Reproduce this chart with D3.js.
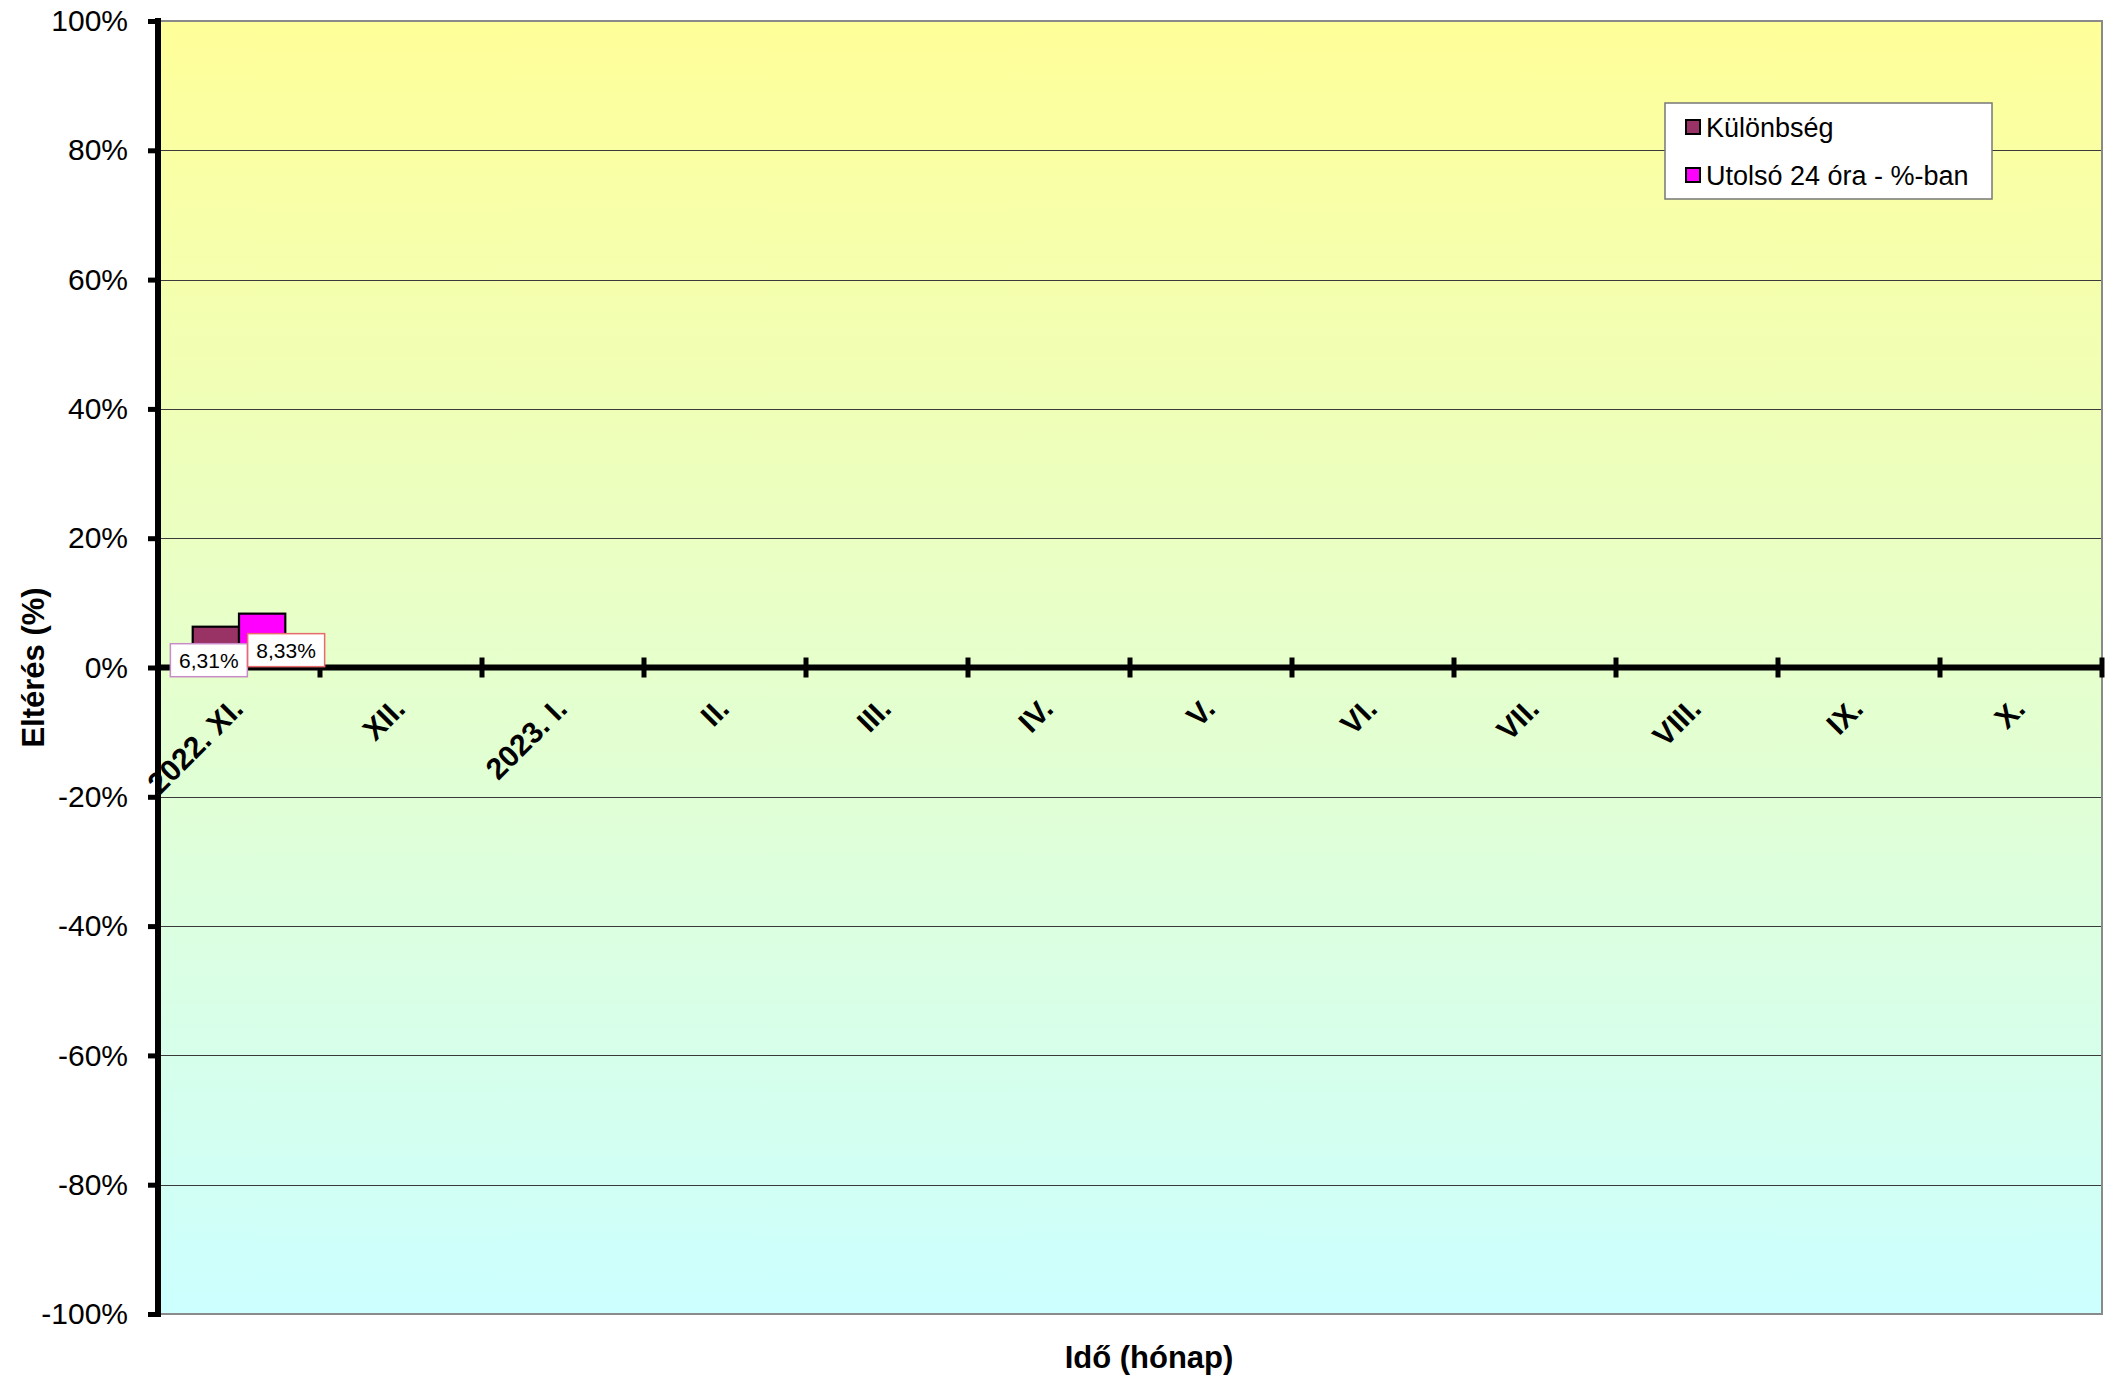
<!DOCTYPE html>
<html>
<head>
<meta charset="utf-8">
<script src="https://cdn.jsdelivr.net/npm/d3@7"></script>
<style>
  html, body { margin: 0; padding: 0; background: #fff; }
  svg { display: block; font-family: "Liberation Sans", Arial, sans-serif; }
</style>
</head>
<body>
<svg id="chart" width="2112" height="1378"></svg>
<script>
// ---- data ----
const categories = ["2022. XI.", "XII.", "2023. I.", "II.", "III.", "IV.", "V.", "VI.", "VII.", "VIII.", "IX.", "X."];
const seriesNames = ["Különbség", "Utolsó 24 óra - %-ban"];
const kulonbsegValues = [6.31, null, null, null, null, null, null, null, null, null, null, null];
const utolsoValues = [8.33, null, null, null, null, null, null, null, null, null, null, null];
const yTicks = [100, 80, 60, 40, 20, 0, -20, -40, -60, -80, -100];
const yTitle = "Eltérés (%)";
const xTitle = "Idő (hónap)";

// ---- styles ----
const seriesColors = ["#993366", "#FF00FF"];
const labelBorders = ["#C88BC8", "#E86A6A"];
const labelOffsets = [{dx: -7, dy: 33.5}, {dx: 24, dy: 36.5}];

const svg = d3.select("#chart");
const pLeft = 158, pRight = 2102, pTop = 21, pBottom = 1314;

const x = d3.scaleBand().domain(categories).range([pLeft, pRight]).padding(0);
const xs = d3.scaleBand().domain(seriesNames).range([0, x.bandwidth()]).paddingInner(0).paddingOuter(0.75);
const y = d3.scaleLinear().domain([-100, 100]).range([pBottom, pTop]);

// background gradient
const defs = svg.append("defs");
const grad = defs.append("linearGradient").attr("id", "bg").attr("x1", 0).attr("y1", 0).attr("x2", 0).attr("y2", 1);
grad.append("stop").attr("offset", "0%").attr("stop-color", "#FFFF99");
grad.append("stop").attr("offset", "100%").attr("stop-color", "#CCFFFF");

svg.append("rect").attr("x", pLeft).attr("y", pTop).attr("width", pRight - pLeft).attr("height", pBottom - pTop)
  .attr("fill", "url(#bg)");

// gridlines
svg.append("g").selectAll("line").data(yTicks.filter(d => d !== 0 && d !== 100 && d !== -100)).join("line")
  .attr("x1", pLeft).attr("x2", pRight)
  .attr("y1", d => Math.round(y(d)) + 0.5).attr("y2", d => Math.round(y(d)) + 0.5)
  .attr("stroke", "#3a3a3a").attr("stroke-width", 1);

// plot border
svg.append("rect").attr("x", pLeft).attr("y", pTop).attr("width", pRight - pLeft).attr("height", pBottom - pTop)
  .attr("fill", "none").attr("stroke", "#8a8a8a").attr("stroke-width", 2);

// bars
const seriesData = [kulonbsegValues, utolsoValues];
seriesData.forEach((vals, si) => {
  svg.append("g").selectAll("rect").data(categories.map((c, i) => ({c, v: vals[i]})).filter(d => d.v != null)).join("rect")
    .attr("x", d => x(d.c) + xs(seriesNames[si]))
    .attr("width", xs.bandwidth())
    .attr("y", d => Math.min(y(d.v), y(0)))
    .attr("height", d => Math.abs(y(d.v) - y(0)))
    .attr("fill", seriesColors[si])
    .attr("stroke", "#000").attr("stroke-width", 2.2);
});

// y axis
const yAxis = d3.axisLeft(y).tickValues(yTicks).tickFormat(d => d + "%").tickSize(10).tickSizeOuter(0).tickPadding(20);
const yg = svg.append("g").attr("transform", `translate(${pLeft},0)`).call(yAxis);
yg.select(".domain").attr("stroke", "#000").attr("stroke-width", 6).attr("d", `M0,${pTop - 3}V${pBottom + 3}`);
yg.selectAll(".tick line").attr("stroke", "#000").attr("stroke-width", 5);
yg.selectAll(".tick text").attr("font-size", 30).attr("fill", "#000")
  .attr("font-family", "'Liberation Sans', Arial, sans-serif");

// x axis line at zero
const y0 = y(0);
svg.append("line").attr("x1", pLeft).attr("x2", pRight).attr("y1", y0).attr("y2", y0)
  .attr("stroke", "#000").attr("stroke-width", 6);
svg.append("g").selectAll("line").data(categories).join("line")
  .attr("x1", d => x(d) + x.bandwidth()).attr("x2", d => x(d) + x.bandwidth())
  .attr("y1", y0 - 10).attr("y2", y0 + 10)
  .attr("stroke", "#000").attr("stroke-width", 5);

// category labels
svg.append("g").selectAll("text").data(categories).join("text")
  .attr("transform", d => `translate(${x(d) + x.bandwidth() / 2 + 6},${y0 + 43}) rotate(-45)`)
  .attr("text-anchor", "end")
  .attr("font-size", 30).attr("font-weight", "bold").attr("fill", "#000")
  .text(d => d);

// data labels
seriesData.forEach((vals, si) => {
  const g = svg.append("g");
  categories.forEach((c, i) => {
    const v = vals[i];
    if (v == null) return;
    const cx = x(c) + xs(seriesNames[si]) + xs.bandwidth() / 2 + labelOffsets[si].dx;
    const cy = y(v) + labelOffsets[si].dy;
    const label = d3.format(".2f")(v).replace(".", ",") + "%";
    const w = 77, h = 33;
    g.append("rect").attr("x", cx - w / 2).attr("y", cy - h / 2).attr("width", w).attr("height", h)
      .attr("fill", "#fff").attr("stroke", labelBorders[si]).attr("stroke-width", 1.5);
    g.append("text").attr("x", cx).attr("y", cy + 7.5).attr("text-anchor", "middle")
      .attr("font-size", 21).attr("fill", "#000").text(label);
  });
});

// axis titles
svg.append("text").attr("transform", `translate(44,${y0}) rotate(-90)`).attr("text-anchor", "middle")
  .attr("font-size", 31).attr("font-weight", "bold").attr("fill", "#000").text(yTitle);
svg.append("text").attr("x", 1149).attr("y", 1368).attr("text-anchor", "middle")
  .attr("font-size", 31).attr("font-weight", "bold").attr("fill", "#000").text(xTitle);

// legend
const lg = svg.append("g").attr("transform", "translate(1665,103)");
lg.append("rect").attr("width", 327).attr("height", 96).attr("fill", "#fff").attr("stroke", "#777").attr("stroke-width", 1.5);
seriesNames.forEach((name, i) => {
  const row = lg.append("g").attr("transform", `translate(0,${24.5 + i * 48})`);
  row.append("rect").attr("x", 21).attr("y", -7.5).attr("width", 14).attr("height", 14)
    .attr("fill", seriesColors[i]).attr("stroke", "#000").attr("stroke-width", 2);
  row.append("text").attr("x", 41).attr("y", 9).attr("font-size", 27).attr("fill", "#000").text(name);
});
</script>
</body>
</html>
